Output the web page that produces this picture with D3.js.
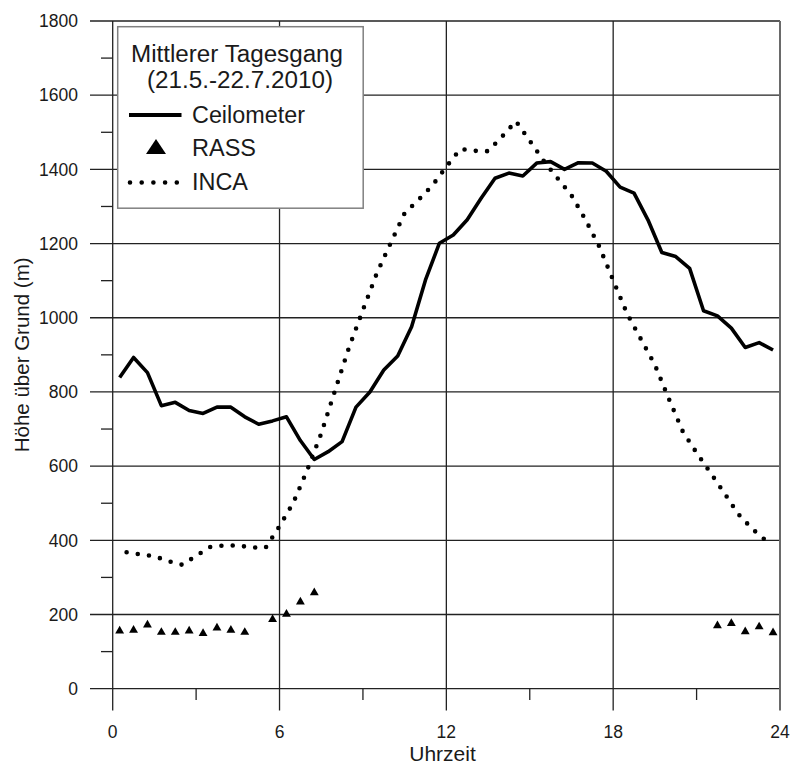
<!DOCTYPE html>
<html>
<head>
<meta charset="utf-8">
<script src="https://cdn.jsdelivr.net/npm/d3@7"></script>
<style>
body { margin: 0; background: #fff; }
text { font-family: "Liberation Sans", Arial, sans-serif; fill: #1a1a1a; }
</style>
</head>
<body>
<svg width="792" height="765"></svg>
<script>
// Ceilometer, half-hourly means
var ceiloHours = [0.25, 0.75, 1.25, 1.75, 2.25, 2.75, 3.25, 3.75, 4.25, 4.75, 5.25, 5.75,
    6.25, 6.75, 7.25, 7.75, 8.25, 8.75, 9.25, 9.75, 10.25, 10.75, 11.25, 11.75,
    12.25, 12.75, 13.25, 13.75, 14.25, 14.75, 15.25, 15.75, 16.25, 16.75, 17.25, 17.75,
    18.25, 18.75, 19.25, 19.75, 20.25, 20.75, 21.25, 21.75, 22.25, 22.75, 23.25, 23.75];
var ceiloValues = [839, 893, 852, 763, 772, 750, 742, 759, 759, 733, 713, 722,
    733, 669, 618, 639, 666, 759, 800, 859, 897, 976, 1102, 1201,
    1223, 1264, 1322, 1376, 1390, 1382, 1417, 1421, 1400, 1418, 1417, 1395,
    1352, 1336, 1264, 1176, 1165, 1133, 1019, 1005, 972, 920, 933, 913];

// RASS
var rassHours = [0.25, 0.75, 1.25, 1.75, 2.25, 2.75, 3.25, 3.75, 4.25, 4.75,
    5.75, 6.25, 6.75, 7.25, 21.75, 22.25, 22.75, 23.25, 23.75];
var rassValues = [156, 158, 172, 152, 152, 156, 149, 164, 158, 152,
    187, 201, 234, 259, 170, 176, 154, 167, 151];

// INCA
var incaHours = [0.5, 1, 1.5, 2, 2.5, 3, 3.5, 4, 4.5, 5, 5.5, 6, 6.5, 7, 7.5, 8, 8.5, 9,
    9.5, 10, 10.5, 11, 11.5, 12, 12.5, 13, 13.5, 14, 14.5, 15, 15.5, 16, 16.5, 17,
    17.5, 18, 18.5, 19, 19.5, 20, 20.5, 21, 21.5, 22, 22.5, 23, 23.5];
var incaValues = [368, 362, 357, 344, 334, 358, 382, 386, 386, 381, 380, 438, 502, 590, 688, 805, 920, 1021,
    1120, 1202, 1282, 1318, 1357, 1407, 1455, 1450, 1449, 1488, 1530, 1477, 1423, 1376, 1330, 1265,
    1192, 1101, 1011, 942, 873, 782, 694, 636, 582, 527, 471, 431, 399];

var xMajor = [0, 6, 12, 18, 24];
var xMinor = [3, 9, 15, 21];
var yMajor = [0, 200, 400, 600, 800, 1000, 1200, 1400, 1600, 1800];
var yMinor = [100, 300, 500, 700, 900, 1100, 1300, 1500, 1700];

var legendTitle = ["Mittlerer Tagesgang", "(21.5.-22.7.2010)"];
var seriesNames = ["Ceilometer", "RASS", "INCA"];

var svg = d3.select("svg");

var x = d3.scaleLinear().domain([0, 24]).range([112.7, 780]);
var y = d3.scaleLinear().domain([0, 1800]).range([688.7, 21]);

var grid = svg.append("g");

// horizontal grid lines reaching out past the axis
grid.selectAll(".hgrid")
    .data(yMajor)
    .enter().append("line")
    .attr("x1", 90).attr("x2", x(24))
    .attr("y1", function(d) { return y(d); })
    .attr("y2", function(d) { return y(d); })
    .attr("stroke", "#222").attr("stroke-width", 1.3);

grid.selectAll(".ymin")
    .data(yMinor)
    .enter().append("line")
    .attr("x1", 101).attr("x2", x(0))
    .attr("y1", function(d) { return y(d); })
    .attr("y2", function(d) { return y(d); })
    .attr("stroke", "#222").attr("stroke-width", 1.3);

grid.selectAll(".vgrid")
    .data(xMajor)
    .enter().append("line")
    .attr("x1", function(d) { return x(d); })
    .attr("x2", function(d) { return x(d); })
    .attr("y1", y(1800)).attr("y2", 710.5)
    .attr("stroke", function(d) { return d == 24 ? "#6a6a6a" : "#222"; })
    .attr("stroke-width", function(d) { return d == 24 ? 2 : 1.3; });

grid.selectAll(".xmin")
    .data(xMinor)
    .enter().append("line")
    .attr("x1", function(d) { return x(d); })
    .attr("x2", function(d) { return x(d); })
    .attr("y1", y(0)).attr("y2", 700)
    .attr("stroke", "#222").attr("stroke-width", 1.3);

// tick labels
svg.selectAll(".ylab")
    .data(yMajor)
    .enter().append("text")
    .attr("x", 78)
    .attr("y", function(d) { return y(d) + 6.3; })
    .attr("text-anchor", "end")
    .style("font-size", "17.5px")
    .text(function(d) { return d; });

svg.selectAll(".xlab")
    .data(xMajor)
    .enter().append("text")
    .attr("x", function(d) { return x(d); })
    .attr("y", 737.5)
    .attr("text-anchor", "middle")
    .style("font-size", "17.5px")
    .text(function(d) { return d; });

svg.append("text")
    .attr("x", 442.5).attr("y", 760.5)
    .attr("text-anchor", "middle")
    .style("font-size", "21px")
    .text("Uhrzeit");

svg.append("text")
    .attr("transform", "translate(29," + y(900) + ") rotate(-90)")
    .attr("text-anchor", "middle")
    .style("font-size", "20.5px")
    .text("Höhe über Grund (m)");

// INCA dotted line
var incaLine = d3.line()
    .x(function(d, i) { return x(incaHours[i]); })
    .y(function(d) { return y(d); });

svg.append("path")
    .attr("d", incaLine(incaValues))
    .attr("fill", "none")
    .attr("stroke", "#000")
    .attr("stroke-width", 4.6)
    .attr("stroke-linecap", "round")
    .attr("stroke-dasharray", "0,11.3");

// Ceilometer solid line
var ceiloLine = d3.line()
    .x(function(d, i) { return x(ceiloHours[i]); })
    .y(function(d) { return y(d); });

svg.append("path")
    .attr("d", ceiloLine(ceiloValues))
    .attr("fill", "none")
    .attr("stroke", "#000")
    .attr("stroke-width", 3.6)
    .attr("stroke-linejoin", "round");

// RASS triangles
var tri = d3.symbol().type(d3.symbolTriangle).size(34);
svg.selectAll(".rass")
    .data(rassValues)
    .enter().append("path")
    .attr("d", tri)
    .attr("transform", function(d, i) { return "translate(" + x(rassHours[i]) + "," + y(d) + ")"; })
    .attr("fill", "#000");

// legend
var lg = svg.append("g");
lg.append("rect")
    .attr("x", 117.7).attr("y", 26.7)
    .attr("width", 245.5).attr("height", 181.5)
    .attr("fill", "#fff")
    .attr("stroke", "#808080").attr("stroke-width", 1.5);

lg.selectAll(".ltitle")
    .data(legendTitle)
    .enter().append("text")
    .attr("x", function(d, i) { return i == 0 ? 131 : 147; })
    .attr("y", function(d, i) { return i == 0 ? 61.7 : 88.3; })
    .attr("textLength", function(d, i) { return i == 0 ? 212 : 186; })
    .attr("lengthAdjust", "spacingAndGlyphs")
    .style("font-size", "23px")
    .text(function(d) { return d; });

lg.selectAll(".lname")
    .data(seriesNames)
    .enter().append("text")
    .attr("x", 192)
    .attr("y", function(d, i) { return [122.7, 156, 190][i]; })
    .attr("textLength", function(d, i) { return [113, 64, 56][i]; })
    .attr("lengthAdjust", "spacingAndGlyphs")
    .style("font-size", "23px")
    .text(function(d) { return d; });

lg.append("line")
    .attr("x1", 129).attr("x2", 181.5)
    .attr("y1", 115).attr("y2", 115)
    .attr("stroke", "#000").attr("stroke-width", 4);

lg.append("path")
    .attr("d", "M146,154L156,139L166,154Z")
    .attr("fill", "#000");

lg.append("line")
    .attr("x1", 130).attr("x2", 177)
    .attr("y1", 182.5).attr("y2", 182.5)
    .attr("stroke", "#000").attr("stroke-width", 4.6)
    .attr("stroke-linecap", "round")
    .attr("stroke-dasharray", "0,11.7");
</script>
</body>
</html>
